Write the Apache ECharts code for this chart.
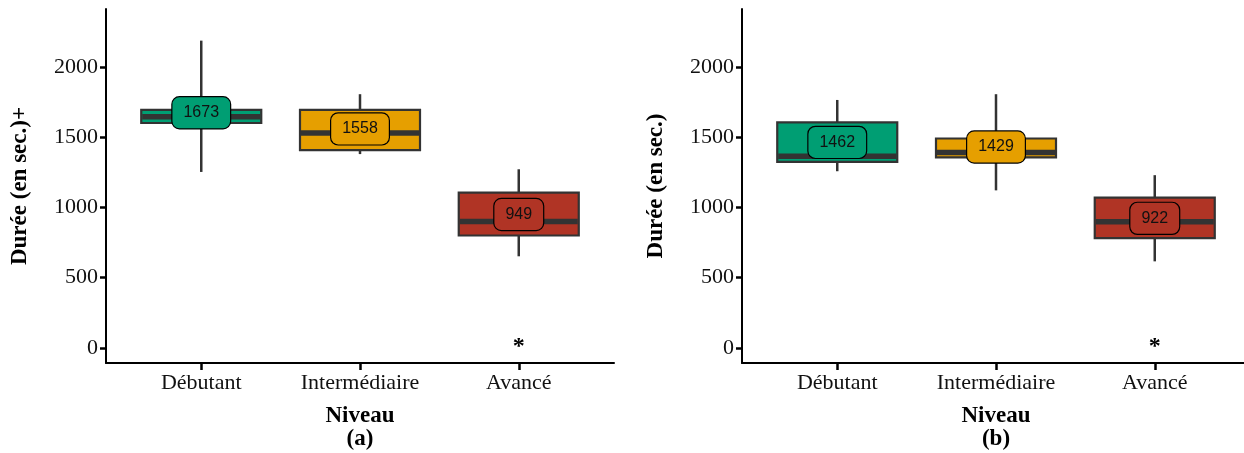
<!DOCTYPE html>
<html>
<head>
<meta charset="utf-8">
<script src="https://cdn.jsdelivr.net/npm/echarts@6/dist/echarts.min.js"></script>
<style>
html,body{margin:0;padding:0;background:#fff;}
#chart{width:1244px;height:453px;}
</style>
</head>
<body>
<div id="chart"></div>
<script>
// ---- data ----
const categories = ['Débutant', 'Intermédiaire', 'Avancé'];
const colors = ['#009E73', '#E69F00', '#B03425'];
const yTicks = [0, 500, 1000, 1500, 2000];

// Panel (a)
const minA = [1252, 1379, 652];
const q1A = [1600, 1407, 800];
const medA = [1645, 1529, 900];
const q3A = [1693, 1693, 1105];
const maxA = [2186, 1805, 1271];
const meanA = [1673, 1558, 949];
const starA = [null, null, 0];

// Panel (b)
const minB = [1257, 1121, 616];
const q1B = [1324, 1355, 781];
const medB = [1364, 1390, 897];
const q3B = [1605, 1490, 1069];
const maxB = [1764, 1805, 1229];
const meanB = [1462, 1429, 922];
const starB = [null, null, 0];

const yTitleA = 'Durée (en sec.)+';
const yTitleB = 'Durée (en sec.)';
const xTitle = 'Niveau';
const panelA = '(a)';
const panelB = '(b)';

// ---- build ----
function buildData(mn, q1, md, q3, mx, mean, star) {
  return categories.map((c, i) => [i + 1, mn[i], q1[i], md[i], q3[i], mx[i], mean[i], star[i] == null ? '-' : star[i]]);
}

const serif = 'Liberation Serif, Times New Roman, serif';
const sans = 'Liberation Sans, Arial, sans-serif';

function renderItem(params, api) {
  const x = api.value(0);
  const i = x - 1;
  const color = colors[i];
  const pMin = api.coord([x, api.value(1)]);
  const pQ1 = api.coord([x, api.value(2)]);
  const pMed = api.coord([x, api.value(3)]);
  const pQ3 = api.coord([x, api.value(4)]);
  const pMax = api.coord([x, api.value(5)]);
  const pMean = api.coord([x, api.value(6)]);
  const halfW = api.size([0.756, 0])[0] / 2;
  const cx = pMed[0];
  const children = [
    {type: 'line', shape: {x1: cx, y1: pMax[1], x2: cx, y2: pMin[1]}, style: {stroke: '#333333', lineWidth: 2.5}},
    {type: 'rect', shape: {x: cx - halfW, y: pQ3[1], width: 2 * halfW, height: pQ1[1] - pQ3[1]},
      style: {fill: color, stroke: '#333333', lineWidth: 2.2}},
    {type: 'line', shape: {x1: cx - halfW + 1, y1: pMed[1], x2: cx + halfW - 1, y2: pMed[1]}, style: {stroke: '#333333', lineWidth: 5.5}},
    {type: 'text', style: {
      text: String(api.value(6)), x: cx, y: pMean[1], align: 'center', verticalAlign: 'middle',
      fontFamily: sans, fontSize: 16, fill: '#111111',
      backgroundColor: color, borderColor: '#000000', borderWidth: 1.2, borderRadius: 7,
      padding: [8, 11, 7, 11]
    }}
  ];
  const sv = api.value(7);
  if (sv !== '-' && !isNaN(sv)) {
    const pS = api.coord([x, sv]);
    children.push({type: 'text', style: {
      text: '*', x: cx, y: pS[1] - 1, align: 'center', verticalAlign: 'middle',
      fontFamily: serif, fontSize: 24, fontWeight: 'bold', fill: '#000'
    }});
  }
  return {type: 'group', children: children};
}

function xAxis(gridIndex, panel) {
  return {
    type: 'value', gridIndex: gridIndex, min: 0.4, max: 3.6,
    axisLine: {show: true, onZero: false, lineStyle: {color: '#000', width: 2}},
    axisTick: {show: true, length: 7, lineStyle: {color: '#000', width: 2.5}, customValues: [1, 2, 3]},
    axisLabel: {customValues: [1, 2, 3], formatter: v => categories[Math.round(v) - 1] || '',
      fontFamily: serif, fontSize: 22, color: '#111', margin: 9},
    splitLine: {show: false},
    name: '{t|' + xTitle + '}\n{p|' + panel + '}', nameLocation: 'middle', nameGap: 42,
    nameTextStyle: {rich: {
      t: {fontFamily: serif, fontWeight: 'bold', fontSize: 23, color: '#000', lineHeight: 23, align: 'center'},
      p: {fontFamily: serif, fontWeight: 'bold', fontSize: 23, color: '#000', lineHeight: 23, align: 'center'}
    }}
  };
}
function yAxis(gridIndex, title) {
  return {
    type: 'value', gridIndex: gridIndex, min: -107, max: 2411,
    axisLine: {show: true, onZero: false, lineStyle: {color: '#000', width: 2}},
    axisTick: {show: true, length: 6, lineStyle: {color: '#000', width: 2.5}, customValues: yTicks},
    axisLabel: {customValues: yTicks, formatter: v => String(v), fontFamily: serif, fontSize: 22, color: '#111', margin: 8},
    splitLine: {show: false},
    name: title, nameLocation: 'middle', nameGap: 74,
    nameTextStyle: {fontFamily: serif, fontWeight: 'bold', fontSize: 23, color: '#000'}
  };
}

const chart = echarts.init(document.getElementById('chart'), null, {renderer: 'canvas'});
chart.setOption({
  animation: false,
  backgroundColor: '#ffffff',
  grid: [
    {left: 106, top: 9, width: 508, height: 354, outerBoundsMode: 'none', containLabel: false},
    {left: 742, top: 9, width: 508, height: 354, outerBoundsMode: 'none', containLabel: false}
  ],
  xAxis: [xAxis(0, panelA), xAxis(1, panelB)],
  yAxis: [yAxis(0, yTitleA), yAxis(1, yTitleB)],
  series: [
    {type: 'custom', xAxisIndex: 0, yAxisIndex: 0, clip: false, renderItem: renderItem,
      encode: {x: 0, y: [1, 2, 3, 4, 5]},
      data: buildData(minA, q1A, medA, q3A, maxA, meanA, starA)},
    {type: 'custom', xAxisIndex: 1, yAxisIndex: 1, clip: false, renderItem: renderItem,
      encode: {x: 0, y: [1, 2, 3, 4, 5]},
      data: buildData(minB, q1B, medB, q3B, maxB, meanB, starB)}
  ]
});
</script>
</body>
</html>
